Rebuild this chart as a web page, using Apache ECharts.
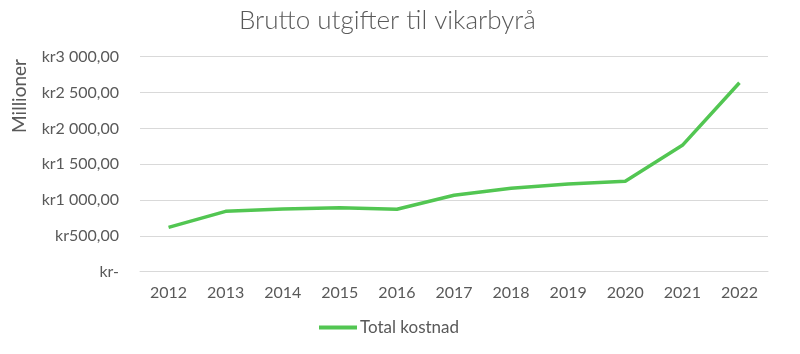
<!DOCTYPE html>
<html>
<head>
<meta charset="utf-8">
<script src="https://cdn.jsdelivr.net/npm/echarts@6/dist/echarts.min.js"></script>
<style>
  html, body { margin: 0; padding: 0; background: #fff; }
  #chart { width: 800px; height: 354px; }
</style>
</head>
<body>
<div id="chart"></div>
<script>
// data (millioner kr)
const years = ["2012", "2013", "2014", "2015", "2016", "2017", "2018", "2019", "2020", "2021", "2022"];
const totalKostnad = [619, 842, 874, 893, 872, 1066, 1163, 1223, 1261, 1763, 2636];
const yTicks = [0, 500, 1000, 1500, 2000, 2500, 3000];

const font = "Lato, 'Noto Sans', sans-serif";
const textColor = "#595959";

function krFormat(v) {
  if (v === 0) return "kr-";
  const s = Math.round(v).toString().replace(/\B(?=(\d{3})+(?!\d))/g, " ");
  return "kr" + s + ",00";
}

const chart = echarts.init(document.getElementById("chart"));
chart.setOption({
  animation: false,
  title: {
    text: "Brutto utgifter til vikarbyrå",
    left: 234,
    top: 3,
    textStyle: { fontFamily: font, fontSize: 26, fontWeight: 300, color: textColor }
  },
  grid: { left: 140, right: 32, top: 56.7, bottom: 82.3 },
  xAxis: {
    type: "category",
    data: years,
    boundaryGap: true,
    axisLine: { show: true, lineStyle: { color: "#d9d9d9", width: 1 } },
    axisTick: { show: false },
    axisLabel: { fontFamily: font, fontSize: 16, color: textColor, margin: 13 }
  },
  yAxis: {
    type: "value",
    min: yTicks[0],
    max: yTicks[yTicks.length - 1],
    interval: 500,
    axisLine: { show: false },
    axisTick: { show: false },
    splitLine: { lineStyle: { color: "#d9d9d9", width: 1 } },
    axisLabel: { fontFamily: font, fontSize: 16, color: textColor, margin: 21, formatter: krFormat }
  },
  legend: {
    bottom: 13,
    left: 314,
    itemWidth: 38,
    itemHeight: 4,
    itemGap: 4,
    icon: "rect",
    data: ["Total kostnad"],
    textStyle: { fontFamily: font, fontSize: 17, color: textColor, padding: [0, 0, 0, -2] }
  },
  graphic: [{
    type: "text",
    left: 10,
    top: 59,
    rotation: Math.PI / 2,
    style: { text: "Millioner", font: "19px " + font, fill: textColor }
  }],
  series: [{
    name: "Total kostnad",
    type: "line",
    data: totalKostnad,
    symbol: "none",
    lineStyle: { color: "#52c652", width: 3.5 },
    itemStyle: { color: "#52c652" }
  }]
});
</script>
</body>
</html>
